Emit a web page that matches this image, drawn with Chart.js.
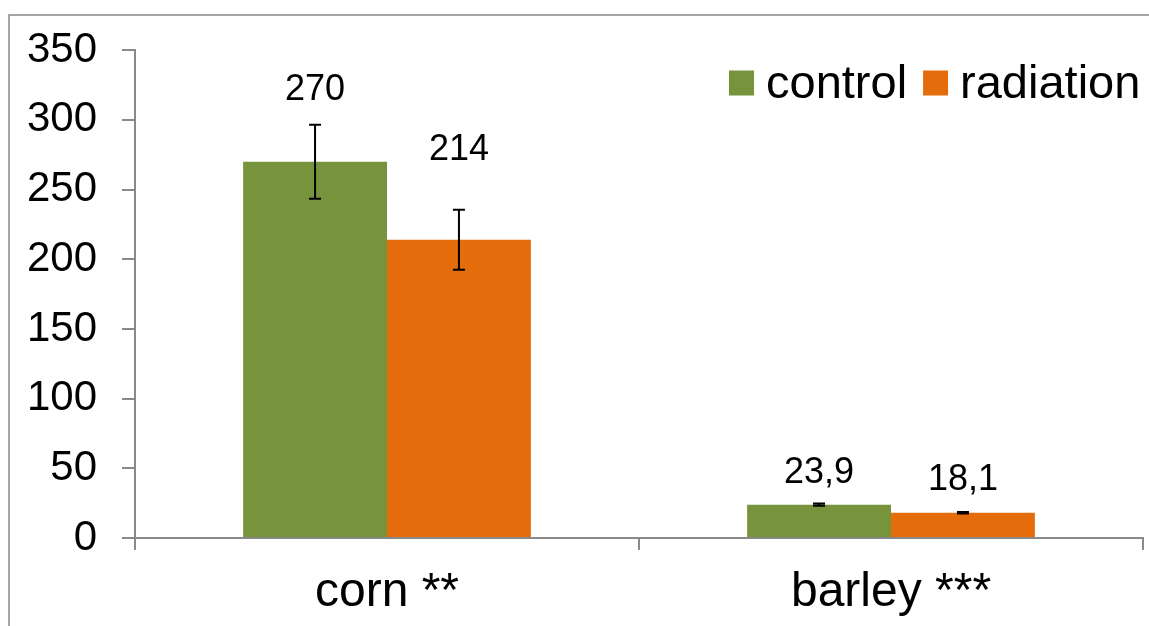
<!DOCTYPE html>
<html>
<head>
<meta charset="utf-8">
<script src="https://cdn.jsdelivr.net/npm/chart.js@4/dist/chart.umd.min.js"></script>
<style>
  html, body { margin: 0; padding: 0; background: #fff; }
  #wrap { width: 1149px; height: 626px; position: relative; }
</style>
</head>
<body>
<div id="wrap"><canvas id="grafico"></canvas></div>
<script>
// Dados do gráfico
const categorias = ['corn **', 'barley ***'];
const serieNomes = ['control', 'radiation'];
const controle = [270, 23.9];
const radiacao = [214, 18.1];
const erroControle = [26.5, 0.8];
const erroRadiacao = [21.5, 0.6];
const eixoY = [0, 50, 100, 150, 200, 250, 300, 350];

const corControle = '#77933C';
const corRadiacao = '#E46C0A';
const corEixo = '#898989';

// deslocamento (px) dos rótulos acima do topo da barra
const deslocRotulo = [[72, 32], [90, 33]];

// Moldura cinza em volta do gráfico
const moldura = {
  id: 'moldura',
  beforeDraw(chart) {
    const ctx = chart.ctx;
    ctx.save();
    ctx.strokeStyle = corEixo;
    ctx.lineWidth = 1.5;
    ctx.beginPath();
    ctx.moveTo(9, chart.height);
    ctx.lineTo(9, 15);
    ctx.lineTo(chart.width, 15);
    ctx.stroke();
    ctx.restore();
  }
};

// Barras de erro e rótulos de valor
const extras = {
  id: 'extras',
  afterDatasetsDraw(chart) {
    const ctx = chart.ctx;
    const y = chart.scales.y;
    const erros = [erroControle, erroRadiacao];
    ctx.save();
    chart.data.datasets.forEach((ds, i) => {
      const meta = chart.getDatasetMeta(i);
      meta.data.forEach((bar, j) => {
        const v = ds.data[j];
        const e = erros[i][j];
        const yTop = y.getPixelForValue(v + e);
        const yBot = y.getPixelForValue(v - e);
        ctx.strokeStyle = '#000';
        ctx.lineWidth = 2;
        ctx.beginPath();
        ctx.moveTo(bar.x, yTop);
        ctx.lineTo(bar.x, yBot);
        ctx.moveTo(bar.x - 6, yTop);
        ctx.lineTo(bar.x + 6, yTop);
        ctx.moveTo(bar.x - 6, yBot);
        ctx.lineTo(bar.x + 6, yBot);
        ctx.stroke();

        ctx.fillStyle = '#000';
        ctx.font = '36px "Liberation Sans", Arial, sans-serif';
        ctx.textAlign = 'center';
        ctx.textBaseline = 'middle';
        const texto = String(v).replace('.', ',');
        ctx.fillText(texto, bar.x, bar.y - deslocRotulo[i][j]);
      });
    });
    ctx.restore();
  }
};

// Legenda dentro da área do gráfico, canto superior direito
const legenda = {
  id: 'legenda',
  afterDraw(chart) {
    const ctx = chart.ctx;
    ctx.save();
    ctx.font = '47px "Liberation Sans", Arial, sans-serif';
    ctx.textBaseline = 'middle';
    ctx.textAlign = 'left';
    const yc = 83;
    let x = 729;
    chart.data.datasets.forEach(ds => {
      ctx.fillStyle = ds.backgroundColor;
      ctx.fillRect(x, yc - 12.5, 25, 25);
      ctx.fillStyle = '#000';
      ctx.fillText(ds.label, x + 37, yc + 2);
      x += 37 + ctx.measureText(ds.label).width + 16;
    });
    ctx.restore();
  }
};

new Chart(document.getElementById('grafico'), {
  type: 'bar',
  data: {
    labels: categorias,
    datasets: [
      { label: serieNomes[0], data: controle, backgroundColor: corControle, borderWidth: 0 },
      { label: serieNomes[1], data: radiacao, backgroundColor: corRadiacao, borderWidth: 0 }
    ]
  },
  options: {
    responsive: true,
    maintainAspectRatio: false,
    animation: false,
    layout: { padding: { top: 46, right: 6, left: 0, bottom: 0 } },
    categoryPercentage: 0.571,
    barPercentage: 1,
    plugins: {
      legend: { display: false },
      tooltip: { enabled: false }
    },
    scales: {
      x: {
        grid: { drawOnChartArea: false, offset: true, tickLength: 12, color: corEixo, lineWidth: 2 },
        border: { color: corEixo, width: 2 },
        ticks: { color: '#000', font: { family: '"Liberation Sans", Arial, sans-serif', size: 48 }, padding: 14 },
        afterFit(scale) { scale.height = 88; }
      },
      y: {
        min: 0,
        max: 350,
        afterBuildTicks(scale) { scale.ticks = eixoY.map(v => ({ value: v })); },
        grid: { drawOnChartArea: false, tickLength: 13, color: corEixo, lineWidth: 2 },
        border: { color: corEixo, width: 2 },
        ticks: { color: '#000', font: { family: '"Liberation Sans", Arial, sans-serif', size: 42 }, padding: 25 },
        afterFit(scale) { scale.width = 135; }
      }
    }
  },
  plugins: [moldura, extras, legenda]
});
</script>
</body>
</html>
